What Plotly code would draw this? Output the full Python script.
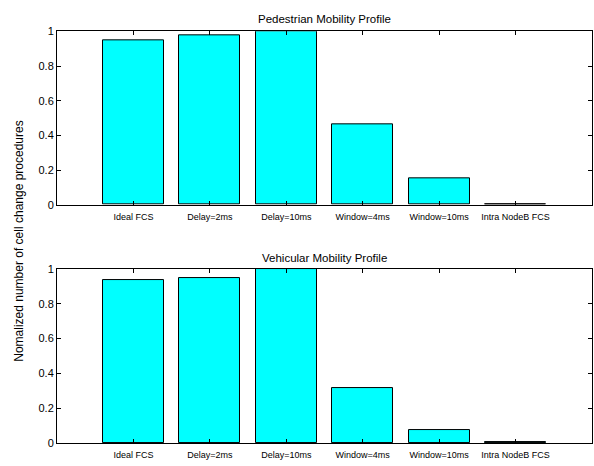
import plotly.graph_objects as go

categories = ["Ideal FCS", "Delay=2ms", "Delay=10ms", "Window=4ms", "Window=10ms", "Intra NodeB FCS"]
pedestrian = [0.948, 0.978, 1.0, 0.465, 0.152, 0.004]
vehicular = [0.935, 0.951, 1.0, 0.313, 0.073, 0.003]
yticks = [0, 0.2, 0.4, 0.6, 0.8, 1]
ytick_labels = ["0", "0.2", "0.4", "0.6", "0.8", "1"]
titles = ["Pedestrian Mobility Profile", "Vehicular Mobility Profile"]
ylabel = "Nomalized number of cell change procedures"

W, H = 594, 466
xpos = list(range(1, len(categories) + 1))

fig = go.Figure()
fig.add_trace(go.Bar(x=xpos, y=pedestrian, width=0.8, marker=dict(color="#00FFFF", line=dict(color="black", width=1)),
                     xaxis="x", yaxis="y", showlegend=False))
fig.add_trace(go.Bar(x=xpos, y=vehicular, width=0.8, marker=dict(color="#00FFFF", line=dict(color="black", width=1)),
                     xaxis="x2", yaxis="y2", showlegend=False))

xdom = [57 / W, 592 / W]
ydom_top = [(H - 204) / H, (H - 26) / H]
ydom_bot = [(H - 448.5) / H, (H - 270) / H]

axis_common = dict(showline=True, linecolor="black", linewidth=1, mirror="ticks", ticks="inside",
                   ticklen=4, tickcolor="black", showgrid=False, zeroline=False)
xfont = dict(family="Liberation Sans, Arial", size=9, color="black")
yfont = dict(family="Liberation Sans, Arial", size=11, color="black")

fig.update_layout(
    width=W, height=H, margin=dict(l=0, r=0, t=0, b=0),
    paper_bgcolor="white", plot_bgcolor="white",
    xaxis=dict(domain=xdom, range=[0, 7], tickvals=xpos, ticktext=categories, tickfont=xfont,
               anchor="y", ticklabelstandoff=3, **axis_common),
    yaxis=dict(domain=ydom_top, range=[0, 1], tickvals=yticks, ticktext=ytick_labels, tickfont=yfont,
               anchor="x", **axis_common),
    xaxis2=dict(domain=xdom, range=[0, 7], tickvals=xpos, ticktext=categories, tickfont=xfont,
                anchor="y2", ticklabelstandoff=3, **axis_common),
    yaxis2=dict(domain=ydom_bot, range=[0, 1], tickvals=yticks, ticktext=ytick_labels, tickfont=yfont,
                anchor="x2", **axis_common),
    bargap=0,
    annotations=[
        dict(text=titles[0], x=(xdom[0] + xdom[1]) / 2, y=(H - 13) / H, xref="paper", yref="paper",
             showarrow=False, font=dict(family="Liberation Sans, Arial", size=11.5, color="black"),
             xanchor="center", yanchor="middle"),
        dict(text=titles[1], x=(xdom[0] + xdom[1]) / 2, y=(H - 259) / H, xref="paper", yref="paper",
             showarrow=False, font=dict(family="Liberation Sans, Arial", size=11.5, color="black"),
             xanchor="center", yanchor="middle"),
        dict(text=ylabel, x=19 / W, y=(H - 242) / H,
             xref="paper", yref="paper", showarrow=False, textangle=-90,
             font=dict(family="Liberation Sans, Arial", size=12, color="black"),
             xanchor="center", yanchor="middle"),
    ],
)

fig.write_html("out.html")
